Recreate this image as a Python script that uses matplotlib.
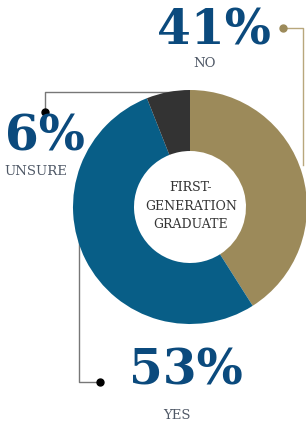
import matplotlib.pyplot as plt

labels = ['NO', 'YES', 'UNSURE']
values = [41, 53, 6]
colors = ['#9c8a5a', '#085e87', '#333333']
center_lines = ['FIRST-', 'GENERATION', 'GRADUATE']

W, H = 306, 423
fig = plt.figure(figsize=(W / 100, H / 100), dpi=100)
ax = fig.add_axes([0, 0, 1, 1])
ax.set_xlim(0, W)
ax.set_ylim(0, H)
ax.set_aspect('equal')
ax.axis('off')


def py(y):
    # pixel row from top -> data y
    return H - y


blue_txt = '#0b4a7d'
grey_txt = '#4f5866'

# leader lines (drawn under the donut)
ax.plot([283, 303, 303], [py(28), py(28), py(165)], color='#b8a77c', lw=1, zorder=1)
ax.plot([283], [py(28)], 'o', color='#9c8a5a', ms=5, zorder=1)
ax.plot([45, 45, 185], [py(112), py(92), py(92)], color='#777777', lw=1, zorder=1)
ax.plot([45], [py(112)], 'o', color='black', ms=5, zorder=1)
ax.plot([79, 79, 100], [py(240), py(382), py(382)], color='#777777', lw=1, zorder=1)
ax.plot([100], [py(382)], 'o', color='black', ms=5, zorder=1)

wedges, _ = ax.pie(values, colors=colors, startangle=90, counterclock=False,
                   center=(190, py(207)), radius=117,
                   wedgeprops=dict(width=61, linewidth=0))
for w in wedges:
    w.set_zorder(2)
ax.set_xlim(0, W)
ax.set_ylim(0, H)

serif = 'DejaVu Serif'
ax.text(214, py(44), '41%', fontsize=35, fontweight='bold', family=serif,
        color=blue_txt, ha='center', va='baseline', zorder=3)
ax.text(205, py(67), 'NO', fontsize=9.5, family=serif, color=grey_txt,
        ha='center', va='baseline', zorder=3)
ax.text(45, py(150), '6%', fontsize=35, fontweight='bold', family=serif,
        color=blue_txt, ha='center', va='baseline', zorder=3)
ax.text(36, py(175), 'UNSURE', fontsize=9.5, family=serif, color=grey_txt,
        ha='center', va='baseline', zorder=3)
ax.text(186, py(384), '53%', fontsize=35, fontweight='bold', family=serif,
        color=blue_txt, ha='center', va='baseline', zorder=3)
ax.text(177, py(419), 'YES', fontsize=9.5, family=serif, color=grey_txt,
        ha='center', va='baseline', zorder=3)

for i, line in enumerate(center_lines):
    ax.text(191, py(191 + i * 18.5), line, fontsize=9, family=serif,
            color='#333333', ha='center', va='baseline', zorder=3)

fig.savefig('out.png', dpi=100)
